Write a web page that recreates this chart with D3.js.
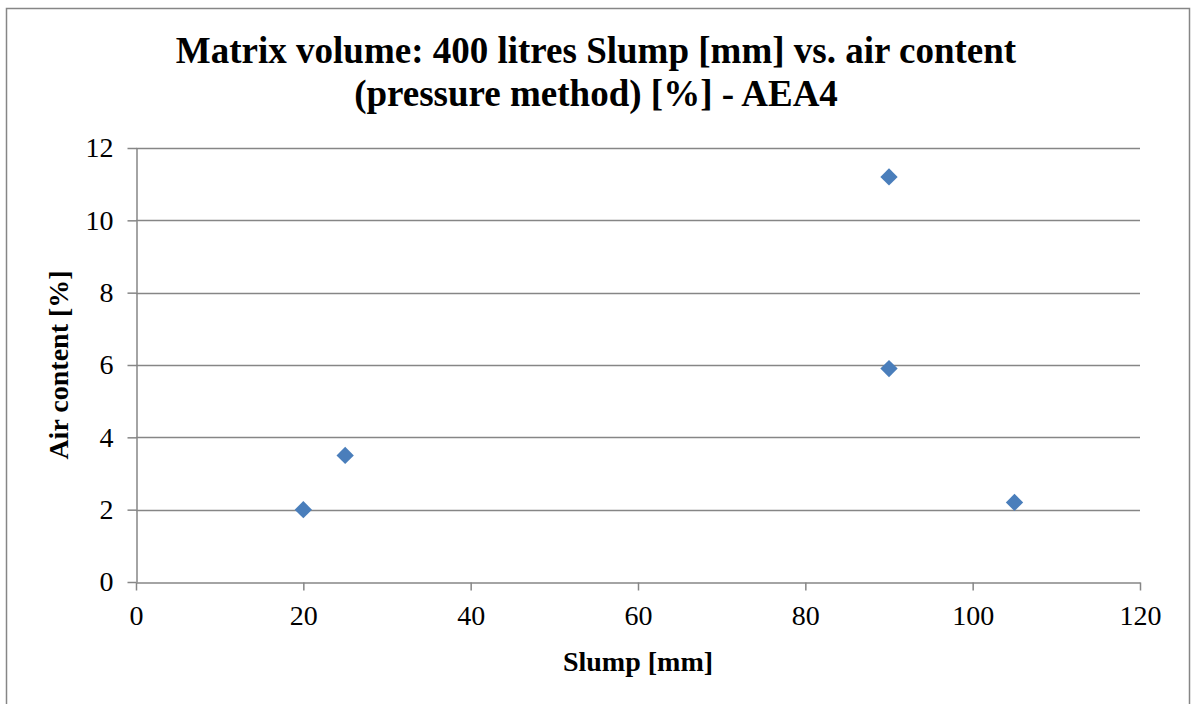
<!DOCTYPE html>
<html>
<head>
<meta charset="utf-8">
<script src="https://cdn.jsdelivr.net/npm/d3@7"></script>
<style>
body { margin: 0; background: #fff; }
svg text { font-family: "Liberation Serif", "Times New Roman", serif; fill: #000; }
</style>
</head>
<body>
<svg id="chart"></svg>
<script>
var w = 1194;
var h = 704;

// data
var slump = [20, 25, 90, 90, 105];
var air = [2, 3.5, 11.2, 5.9, 2.2];
var xTicks = [0, 20, 40, 60, 80, 100, 120];
var yTicks = [0, 2, 4, 6, 8, 10, 12];
var titleLines = ["Matrix volume: 400 litres Slump [mm] vs. air content", "(pressure method) [%] - AEA4"];
var xTitle = "Slump [mm]";
var yTitle = "Air content [%]";

var plot_left = 136, plot_right = 1140, plot_top = 148, plot_bottom = 582;
var grid_color = "#868686";
var marker_color = "#4a7ebb";

var svg = d3.select("#chart").attr("width", w).attr("height", h);

// outer chart frame
svg.append("rect")
    .attr("x", 6.5).attr("y", 8.5)
    .attr("width", 1183).attr("height", 720)
    .attr("fill", "#fff")
    .style("stroke", grid_color)
    .style("stroke-width", "1.5px");

var x = d3.scaleLinear().domain([0, 120]).range([plot_left, plot_right]);
var y = d3.scaleLinear().domain([0, 12]).range([plot_bottom, plot_top]);

// gridlines
svg.append("g").selectAll("line")
    .data(yTicks.filter(function(d){ return d > 0; }))
    .enter().append("line")
    .attr("x1", plot_left).attr("x2", plot_right)
    .attr("y1", function(d){ return Math.round(y(d)) + 0.5; })
    .attr("y2", function(d){ return Math.round(y(d)) + 0.5; })
    .style("stroke", grid_color).style("stroke-width", "1.5px");

// y axis
var yAxis = svg.append("g")
    .attr("transform", "translate(" + (plot_left + 0.5) + ",0)")
    .call(d3.axisLeft(y).tickValues(yTicks).tickSize(9).tickPadding(14).tickSizeOuter(0));
// x axis
var xAxis = svg.append("g")
    .attr("transform", "translate(0," + (plot_bottom + 0.5) + ")")
    .call(d3.axisBottom(x).tickValues(xTicks).tickSize(8).tickPadding(15).tickSizeOuter(0));

[xAxis, yAxis].forEach(function(ax){
    ax.select(".domain").style("stroke", grid_color).style("stroke-width", "1.5px");
    ax.selectAll(".tick line").style("stroke", grid_color).style("stroke-width", "1.5px");
    ax.selectAll(".tick text")
      .style("font-family", '"Liberation Serif", "Times New Roman", serif')
      .style("font-size", "28px").attr("fill", "#000");
});

// markers
var diamond = d3.symbol().type(d3.symbolSquare).size(150);
svg.append("g").selectAll("path")
    .data(slump)
    .enter().append("path")
    .attr("d", diamond)
    .attr("transform", function(d, i){ return "translate(" + x(d) + "," + y(air[i]) + ") rotate(45)"; })
    .style("fill", marker_color);

// title
svg.append("g").selectAll("text")
    .data(titleLines)
    .enter().append("text")
    .attr("x", 596)
    .attr("y", function(d, i){ return 63 + i * 43; })
    .attr("text-anchor", "middle")
    .style("font-size", "37px")
    .style("font-weight", "bold")
    .text(function(d){ return d; });

svg.append("text")
    .attr("x", (plot_left + plot_right) / 2)
    .attr("y", 671)
    .attr("text-anchor", "middle")
    .style("font-size", "28px")
    .style("font-weight", "bold")
    .text(xTitle);

svg.append("text")
    .attr("transform", "translate(68," + ((plot_top + plot_bottom) / 2) + ") rotate(-90)")
    .attr("text-anchor", "middle")
    .style("font-size", "28px")
    .style("font-weight", "bold")
    .text(yTitle);
</script>
</body>
</html>
